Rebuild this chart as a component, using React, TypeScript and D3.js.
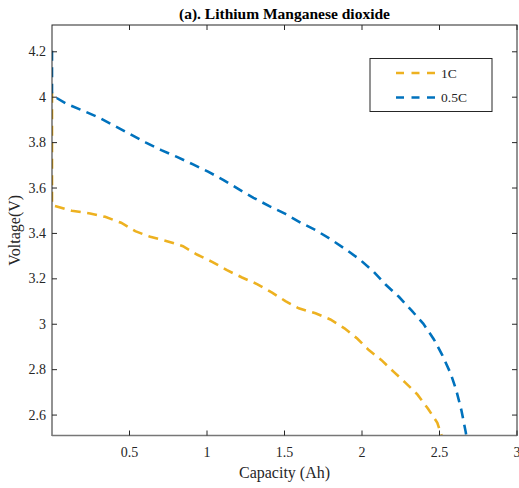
import React from "react";
import * as d3 from "d3";

const W = 519;
const H = 488;
const margin = { left: 52, right: 2, top: 25, bottom: 52.5 };

const title = "(a). Lithium Manganese dioxide";
const xLabel = "Capacity (Ah)";
const yLabel = "Voltage(V)";
const xTicks = [0.5, 1, 1.5, 2, 2.5, 3];
const yTicks = [2.6, 2.8, 3, 3.2, 3.4, 3.6, 3.8, 4, 4.2];
const xDomain = [0, 3];
const yDomain = [2.51, 4.318];

const seriesNames = ["1C", "0.5C"];
const seriesColors = ["#EDB120", "#0072BD"];

// 1C discharge curve [capacity Ah, voltage V]
const oneC: [number, number][] = [
  [0, 4.02], [0, 3.525], [0.128, 3.5], [0.246, 3.488], [0.343, 3.473],
  [0.446, 3.447], [0.537, 3.41], [0.634, 3.385], [0.742, 3.366], [0.845, 3.344],
  [0.935, 3.307], [1.036, 3.274], [1.129, 3.238], [1.226, 3.206], [1.323, 3.177],
  [1.42, 3.139], [1.506, 3.102], [1.592, 3.07], [1.7, 3.048], [1.796, 3.021],
  [1.887, 2.982], [1.969, 2.937], [2.044, 2.886], [2.126, 2.842], [2.205, 2.79],
  [2.281, 2.742], [2.357, 2.691], [2.425, 2.629], [2.486, 2.566], [2.518, 2.5],
];

// 0.5C discharge curve [capacity Ah, voltage V]
const halfC: [number, number][] = [
  [0, 4.205], [0, 4.02], [0.009, 4.005], [0.096, 3.97], [0.203, 3.94], [0.3, 3.911],
  [0.403, 3.874], [0.505, 3.837], [0.606, 3.8], [0.705, 3.767], [0.806, 3.737],
  [0.91, 3.704], [1.01, 3.671], [1.107, 3.635], [1.204, 3.595], [1.3, 3.557],
  [1.402, 3.52], [1.506, 3.486], [1.603, 3.448], [1.7, 3.415], [1.796, 3.375],
  [1.893, 3.331], [1.986, 3.285], [2.076, 3.231], [2.152, 3.175], [2.238, 3.121],
  [2.318, 3.062], [2.395, 3.003], [2.464, 2.933], [2.518, 2.864], [2.572, 2.783],
  [2.608, 2.71], [2.641, 2.622], [2.669, 2.526], [2.675, 2.5],
];

const seriesData = [oneC, halfC];

export default function App() {
  const x = d3.scaleLinear().domain(xDomain).range([margin.left, W - margin.right]);
  const y = d3.scaleLinear().domain(yDomain).range([H - margin.bottom, margin.top]);
  const lineLinear = d3
    .line<[number, number]>()
    .x((d) => x(d[0]))
    .y((d) => y(d[1]));

  const x0 = x(xDomain[0]);
  const x1 = x(xDomain[1]);
  const y0 = y(yDomain[0]);
  const y1 = y(yDomain[1]);
  const axisColor = "#262626";
  const font = "'Liberation Serif', 'Times New Roman', serif";
  const tickLen = 5;

  const legend = { x: 370, y: 58.5, w: 122, h: 53 };

  return (
    <svg
      width={W}
      height={H}
      style={{ position: "fixed", left: 0, top: 0, background: "#fff" }}
      fontFamily={font}
    >
      <defs>
        <clipPath id="plotClip">
          <rect x={x0} y={y1} width={x1 - x0} height={y0 - y1} />
        </clipPath>
      </defs>
      <rect x={0} y={0} width={W} height={H} fill="#fff" />

      {/* data lines */}
      <g clipPath="url(#plotClip)">
        {seriesData.map((data, i) => (
          <path
            key={i}
            d={lineLinear(data) || ""}
            fill="none"
            stroke={seriesColors[i]}
            strokeWidth={2.6}
            strokeDasharray="10,6.5"
          />
        ))}
      </g>

      {/* box */}
      <rect x={x0} y={y1} width={x1 - x0} height={y0 - y1} fill="none" stroke={axisColor} strokeWidth={1} />
      <line x1={x0} x2={x1} y1={y0} y2={y0} stroke="#777" strokeWidth={1.5} />

      {/* x ticks */}
      {xTicks.map((t) => (
        <g key={"x" + t}>
          <line x1={x(t)} x2={x(t)} y1={y0} y2={y0 - tickLen} stroke={axisColor} />
          <line x1={x(t)} x2={x(t)} y1={y1} y2={y1 + tickLen} stroke={axisColor} />
          <text x={x(t)} y={y0 + 21} textAnchor="middle" fontSize={14} fill={axisColor}>
            {String(t)}
          </text>
        </g>
      ))}
      {/* y ticks */}
      {yTicks.map((t) => (
        <g key={"y" + t}>
          <line x1={x0} x2={x0 + tickLen} y1={y(t)} y2={y(t)} stroke={axisColor} />
          <line x1={x1} x2={x1 - tickLen} y1={y(t)} y2={y(t)} stroke={axisColor} />
          <text x={x0 - 6} y={y(t) + 4.5} textAnchor="end" fontSize={14} fill={axisColor}>
            {String(t)}
          </text>
        </g>
      ))}

      {/* labels */}
      <text x={(x0 + x1) / 2} y={478} textAnchor="middle" fontSize={16} fill={axisColor}>
        {xLabel}
      </text>
      <text
        transform={`translate(20, ${(y0 + y1) / 2}) rotate(-90)`}
        textAnchor="middle"
        fontSize={16}
        fill={axisColor}
      >
        {yLabel}
      </text>
      <text x={(x0 + x1) / 2} y={19} textAnchor="middle" fontSize={15.5} fontWeight="bold" fill="#000">
        {title}
      </text>

      {/* legend */}
      <rect x={legend.x} y={legend.y} width={legend.w} height={legend.h} fill="#fff" stroke={axisColor} strokeWidth={1} />
      {seriesNames.map((name, i) => {
        const ly = legend.y + 14.5 + i * 24.5;
        return (
          <g key={name}>
            <line
              x1={legend.x + 26}
              x2={legend.x + 69}
              y1={ly}
              y2={ly}
              stroke={seriesColors[i]}
              strokeWidth={2.6}
              strokeDasharray="8,7.5"
            />
            <text x={legend.x + 71} y={ly + 4.5} fontSize={13.5} fill={axisColor}>
              {name}
            </text>
          </g>
        );
      })}
    </svg>
  );
}
